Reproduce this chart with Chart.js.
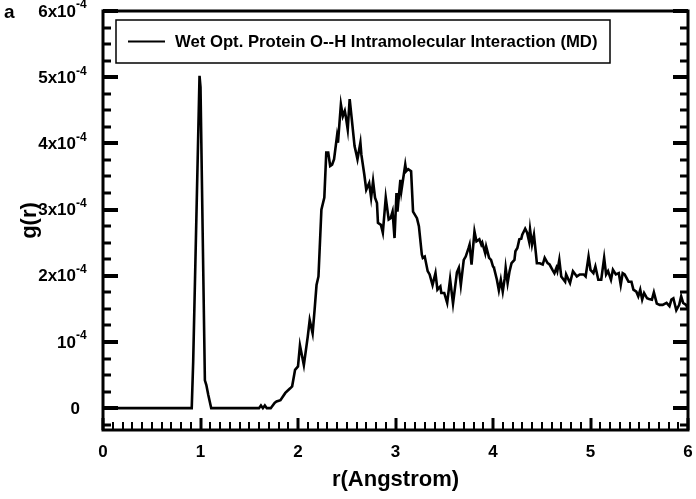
<!DOCTYPE html>
<html>
<head>
<meta charset="utf-8">
<script src="https://cdn.jsdelivr.net/npm/chart.js@4/dist/chart.umd.min.js"></script>
<style>
  html, body { margin: 0; padding: 0; background: #fff; }
  #wrap { width: 696px; height: 499px; }
</style>
</head>
<body>
<div id="wrap"><canvas id="rdf"></canvas></div>
<script>
// r in Angstrom, g(r) in units of 1e-4
const rVals = [
  0, 0.91, 0.925, 0.99, 1.0, 1.045, 1.06, 1.08, 1.11,
  1.6, 1.62, 1.64, 1.66, 1.68, 1.72, 1.76, 1.78, 1.82, 1.87, 1.92, 1.94, 1.97,
  2.0, 2.02, 2.06, 2.1, 2.12, 2.15, 2.17, 2.19, 2.21, 2.24, 2.27, 2.29, 2.31, 2.33, 2.35, 2.37,
  2.4, 2.41, 2.44, 2.46, 2.48, 2.49, 2.51, 2.53, 2.55, 2.58, 2.6, 2.61, 2.64, 2.65, 2.68,
  2.7, 2.73, 2.75, 2.77, 2.79, 2.81, 2.82, 2.85, 2.87, 2.9, 2.93, 2.95, 2.97, 2.99,
  3.01, 3.02, 3.05, 3.06, 3.1, 3.11, 3.13, 3.16, 3.18, 3.22, 3.24, 3.27, 3.28, 3.3, 3.33,
  3.35, 3.38, 3.41, 3.43, 3.46, 3.47, 3.5, 3.53, 3.56, 3.59, 3.63, 3.65, 3.67, 3.7, 3.72,
  3.75, 3.76, 3.78, 3.81, 3.83, 3.86, 3.88, 3.89, 3.92, 3.93, 3.96, 3.98,
  4.0, 4.01, 4.04, 4.06, 4.08, 4.1, 4.12, 4.13, 4.15, 4.17, 4.19, 4.22, 4.23, 4.25, 4.27,
  4.29, 4.3, 4.32, 4.33, 4.35, 4.37, 4.38, 4.4, 4.42, 4.44, 4.45, 4.48, 4.51, 4.53, 4.56,
  4.58, 4.61, 4.63, 4.65, 4.66, 4.68, 4.7, 4.74, 4.75, 4.79, 4.82, 4.86, 4.89, 4.93, 4.95,
  4.98, 5.0, 5.03, 5.05, 5.08, 5.11, 5.14, 5.16, 5.18, 5.21, 5.23, 5.26, 5.29, 5.31, 5.33,
  5.35, 5.39, 5.42, 5.44, 5.47, 5.49, 5.51, 5.53, 5.55, 5.58, 5.6, 5.63, 5.65, 5.68, 5.71,
  5.74, 5.78, 5.81, 5.83, 5.85, 5.88, 5.91, 5.93, 5.95, 5.98, 6.0
];
const gVals = [
  0, 0, 0.7, 5.02, 4.85, 0.42, 0.35, 0.2, 0,
  0, 0.04, 0, 0.04, 0, 0, 0.08, 0.1, 0.12, 0.23, 0.3, 0.33, 0.58,
  0.63, 0.95, 0.65, 1.08, 1.33, 1.13, 1.48, 1.86, 1.99, 3.0, 3.18, 3.86, 3.86, 3.66, 3.68, 3.76,
  4.11, 4.01, 4.59, 4.41, 4.49, 4.41, 4.21, 4.67, 4.39, 3.96, 3.83, 3.76, 4.01, 3.83, 3.53,
  3.3, 3.4, 3.18, 3.43, 3.18, 3.1, 2.8, 2.77, 2.65, 3.18, 2.85, 2.87, 2.97, 2.57,
  3.25, 2.97, 3.45, 3.28, 3.68, 3.58, 3.61, 3.58, 2.97, 2.87, 2.75, 2.32, 2.27, 2.29, 2.07,
  2.02, 1.86, 2.04, 1.79, 1.84, 1.74, 1.74, 1.59, 1.95, 1.58, 2.05, 2.12, 1.86, 2.24, 2.29,
  2.42, 2.47, 2.17, 2.67, 2.52, 2.55, 2.47, 2.5, 2.34, 2.44, 2.27, 2.24,
  2.14, 2.12, 1.94, 1.78, 1.94, 1.76, 1.96, 2.12, 1.89, 2.07, 2.19, 2.24, 2.37, 2.42, 2.55,
  2.56, 2.62, 2.68, 2.71, 2.65, 2.52, 2.7, 2.47, 2.62, 2.34, 2.19, 2.19, 2.17, 2.27, 2.19,
  2.17, 2.09, 2.04, 2.12, 2.07, 2.24, 1.99, 1.91, 2.02, 1.89, 2.07, 1.99, 2.02, 2.02, 1.99,
  2.29, 2.09, 2.04, 2.14, 1.94, 1.94, 2.27, 2.02, 2.07, 1.94, 2.09, 2.02, 2.04, 1.86, 2.04,
  2.02, 1.91, 1.91, 1.79, 1.76, 1.69, 1.79, 1.64, 1.74, 1.66, 1.65, 1.64, 1.75, 1.58, 1.56,
  1.56, 1.59, 1.54, 1.64, 1.66, 1.48, 1.56, 1.69, 1.59, 1.56, 1.5
];
const xTickVals = [0, 1, 2, 3, 4, 5, 6];
const yTickVals = [0, 1, 2, 3, 4, 5, 6];
const yTickBase = ['0', '10', '2x10', '3x10', '4x10', '5x10', '6x10'];
const yTickExp = ['', '-4', '-4', '-4', '-4', '-4', '-4'];
const seriesLabel = 'Wet Opt. Protein O--H Intramolecular Interaction (MD)';
const panelLetter = 'a';

const FONT = '"Liberation Sans", Arial, sans-serif';

const framePlugin = {
  id: 'frame',
  afterDraw(chart) {
    const { ctx, chartArea: a, scales } = chart;
    const xs = scales.x, ys = scales.y;
    ctx.save();
    ctx.strokeStyle = '#000';
    ctx.fillStyle = '#000';

    // frame
    ctx.lineWidth = 3;
    ctx.strokeRect(a.left, a.top, a.right - a.left, a.bottom - a.top);

    // x ticks (inward, bottom only)
    for (let i = 0; i <= 60; i++) {
      const px = Math.round(xs.getPixelForValue(i / 10));
      const major = i % 10 === 0;
      ctx.lineWidth = major ? 3 : 2;
      ctx.beginPath();
      ctx.moveTo(px, a.bottom);
      ctx.lineTo(px, a.bottom - (major ? 12 : 8));
      ctx.stroke();
    }

    // y ticks (inward, left and right)
    for (let i = -1; i <= 24; i++) {
      const v = i * 0.25;
      if (v < ys.min || v > ys.max) continue;
      const py = Math.round(ys.getPixelForValue(v));
      const major = i % 4 === 0;
      const len = major ? 15 : 8;
      ctx.lineWidth = major ? 4 : 3;
      ctx.beginPath();
      ctx.moveTo(a.left, py);
      ctx.lineTo(a.left + len, py);
      ctx.moveTo(a.right, py);
      ctx.lineTo(a.right - len, py);
      ctx.stroke();
    }

    // y tick labels with superscript exponent
    ctx.textBaseline = 'middle';
    yTickVals.forEach((v, k) => {
      const py = ys.getPixelForValue(v);
      ctx.font = 'bold 17px ' + FONT;
      ctx.textAlign = 'right';
      ctx.fillText(yTickBase[k], yTickExp[k] ? 76 : 80, py + 1);
      if (yTickExp[k]) {
        ctx.font = 'bold 12px ' + FONT;
        ctx.textAlign = 'left';
        ctx.fillText(yTickExp[k], 76, py - 6);
      }
    });

    // legend box
    const bx = 116, by = 20, bw = 494, bh = 43;
    ctx.lineWidth = 1.5;
    ctx.strokeRect(bx, by, bw, bh);
    ctx.lineWidth = 2.2;
    ctx.beginPath();
    ctx.moveTo(128, by + bh / 2);
    ctx.lineTo(165, by + bh / 2);
    ctx.stroke();
    ctx.font = 'bold 16.7px ' + FONT;
    ctx.textAlign = 'left';
    ctx.fillText(chart.data.datasets[0].label, 175, by + bh / 2 + 1);

    // panel letter
    ctx.font = 'bold 19px ' + FONT;
    ctx.textBaseline = 'alphabetic';
    ctx.fillText(panelLetter, 4, 18);
    ctx.restore();
  }
};

new Chart(document.getElementById('rdf'), {
  type: 'line',
  data: {
    datasets: [{
      label: seriesLabel,
      data: rVals.map((r, i) => ({ x: r, y: gVals[i] })),
      borderColor: '#000',
      borderWidth: 2.6,
      pointRadius: 0,
      tension: 0,
      fill: false
    }]
  },
  options: {
    responsive: true,
    maintainAspectRatio: false,
    animation: false,
    layout: { padding: { top: 11, right: 8, left: 0, bottom: 0 } },
    plugins: {
      legend: { display: false },
      tooltip: { enabled: false }
    },
    scales: {
      x: {
        type: 'linear',
        min: 0,
        max: 6,
        afterBuildTicks: s => { s.ticks = xTickVals.map(v => ({ value: v })); },
        ticks: {
          color: '#000',
          font: { family: FONT, size: 17, weight: 'bold' },
          padding: 12,
          maxRotation: 0
        },
        grid: { display: false, drawTicks: false },
        border: { display: false },
        title: {
          display: true,
          text: 'r(Angstrom)',
          color: '#000',
          font: { family: FONT, size: 22, weight: 'bold' },
          padding: { top: 0, bottom: 6 }
        },
        afterFit: s => {
          s.height = 69;
          s.paddingLeft = 0;
          s.paddingRight = 0;
        }
      },
      y: {
        type: 'linear',
        min: -0.33,
        max: 6,
        ticks: { display: false },
        grid: { display: false, drawTicks: false },
        border: { display: false },
        title: {
          display: true,
          text: 'g(r)',
          color: '#000',
          font: { family: FONT, size: 22, weight: 'bold' },
          padding: { top: 17, bottom: 0 }
        },
        afterFit: s => { s.width = 103; }
      }
    }
  },
  plugins: [framePlugin]
});
</script>
</body>
</html>
